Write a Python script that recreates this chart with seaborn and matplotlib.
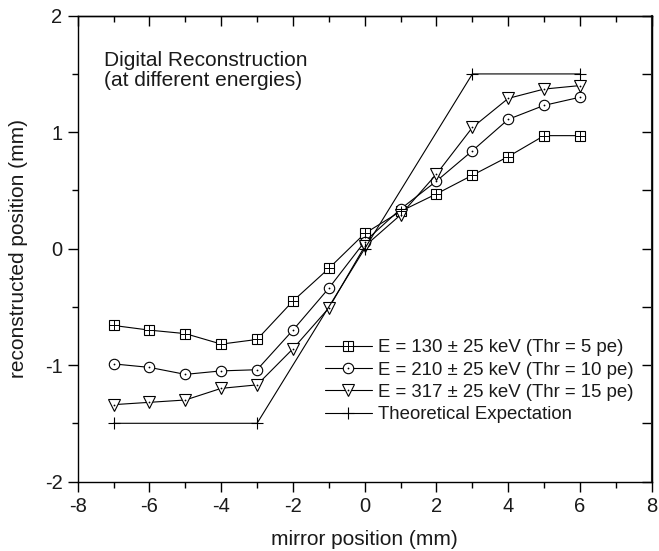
import numpy as np
import pandas as pd
import matplotlib
matplotlib.use("Agg")
import matplotlib.pyplot as plt
import seaborn as sns
from matplotlib.lines import Line2D
from matplotlib.legend_handler import HandlerTuple
from matplotlib.ticker import MultipleLocator

sns.set_theme(style="white")
plt.rcParams['font.family'] = ['Liberation Sans', 'DejaVu Sans']
plt.rcParams['axes.unicode_minus'] = False

# ---- data ----
x_pos = [-7, -6, -5, -4, -3, -2, -1, 0, 1, 2, 3, 4, 5, 6]
y_130 = [-0.66, -0.70, -0.73, -0.82, -0.78, -0.45, -0.17, 0.13, 0.32, 0.47, 0.63, 0.79, 0.97, 0.97]
y_210 = [-0.99, -1.02, -1.08, -1.05, -1.04, -0.70, -0.34, 0.06, 0.34, 0.58, 0.84, 1.11, 1.23, 1.30]
y_317 = [-1.34, -1.32, -1.30, -1.20, -1.17, -0.86, -0.51, 0.02, 0.29, 0.64, 1.04, 1.29, 1.37, 1.40]
x_theo = [-7, -3, 0, 3, 6]
y_theo = [-1.5, -1.5, 0.0, 1.5, 1.5]

labels = ["E = 130 \u00b1 25 keV (Thr = 5 pe)",
          "E = 210 \u00b1 25 keV (Thr = 10 pe)",
          "E = 317 \u00b1 25 keV (Thr = 15 pe)",
          "Theoretical Expectation"]
x_ticks = [-8, -6, -4, -2, 0, 2, 4, 6, 8]
y_ticks = [-2, -1, 0, 1, 2]

TXT = '#1a1a1a'
fig = plt.figure(figsize=(6.59, 5.51), dpi=100)
ax = fig.add_axes([0.1179, 0.1261, 0.8711, 0.8454])

lw = 0.8
common = dict(color='black', linewidth=lw, markerfacecolor='white',
              markeredgecolor='black', markeredgewidth=0.8)

# main series (outer marker)
sns.lineplot(x=x_pos, y=y_130, ax=ax, marker='s', markersize=6.8, zorder=3, **common)
sns.lineplot(x=x_pos, y=y_210, ax=ax, marker='o', markersize=7.5, zorder=3, **common)
sns.lineplot(x=x_pos, y=y_317, ax=ax, marker='v', markersize=8.0, zorder=3, **common)
sns.lineplot(x=x_theo, y=y_theo, ax=ax, marker='+', markersize=8, zorder=4,
             color='black', linewidth=lw, markeredgecolor='black', markeredgewidth=0.8)

# inner decorations
ax.plot(x_pos, y_130, linestyle='none', marker='+', markersize=6.8, color='black',
        markeredgewidth=0.7, zorder=3.5)
ax.plot(x_pos, y_210, linestyle='none', marker='o', markersize=1.3, color='black',
        markeredgewidth=0, zorder=3.5)
ax.plot(x_pos, y_317, linestyle='none', marker='o', markersize=1.3, color='black',
        markeredgewidth=0, zorder=3.5)

ax.set_xlim(-8, 8)
ax.set_ylim(-2, 2)
ax.set_xticks(x_ticks)
ax.set_yticks(y_ticks)
ax.set_xticklabels([str(t) for t in x_ticks])
ax.set_yticklabels([str(t) for t in y_ticks])
ax.xaxis.set_minor_locator(MultipleLocator(1))
ax.yaxis.set_minor_locator(MultipleLocator(0.5))

for s in ax.spines.values():
    s.set_visible(True)
    s.set_color('black')
    s.set_linewidth(1.0)

ax.tick_params(axis='both', which='both', colors='black', labelcolor=TXT,
               labelsize=14.5, direction='out')
ax.tick_params(which='major', length=7, width=1)
ax.tick_params(axis='x', which='major', pad=4)
ax.tick_params(axis='y', which='major', pad=4)
ax.tick_params(which='minor', length=4, width=1)
ax.tick_params(axis='x', which='both', bottom=True, top=False)
ax.tick_params(axis='y', which='both', left=True, right=False)

# mirrored ticks top/right, inward
secx = ax.secondary_xaxis('top')
secx.set_xticks(x_ticks)
secx.xaxis.set_minor_locator(MultipleLocator(1))
secx.tick_params(which='both', direction='in', labeltop=False, colors='black')
secx.tick_params(which='major', length=7, width=1)
secx.tick_params(which='minor', length=4, width=1)
secx.spines['top'].set_linewidth(1.0)
secy = ax.secondary_yaxis('right')
secy.set_yticks(y_ticks)
secy.yaxis.set_minor_locator(MultipleLocator(0.5))
secy.tick_params(which='both', direction='in', labelright=False, colors='black')
secy.tick_params(which='major', length=7, width=1)
secy.tick_params(which='minor', length=7, width=1)
secy.spines['right'].set_linewidth(1.5)

ax.set_xlabel("mirror position (mm)", fontsize=15, color=TXT, labelpad=10)
ax.set_ylabel("reconstructed position (mm)", fontsize=15, color=TXT, labelpad=12)

ax.text(0.045, 0.925, "Digital Reconstruction\n(at different energies)",
        transform=ax.transAxes, fontsize=15, color=TXT, va='top', ha='left',
        linespacing=1.12)

# legend
h1 = (Line2D([], [], marker='s', markersize=6.8, **common),
      Line2D([], [], marker='+', linestyle='none', markersize=6.8, color='black', markeredgewidth=0.7))
h2 = (Line2D([], [], marker='o', markersize=7.5, **common),
      Line2D([], [], marker='o', linestyle='none', markersize=1.3, color='black', markeredgewidth=0))
h3 = (Line2D([], [], marker='v', markersize=8.0, **common),
      Line2D([], [], marker='o', linestyle='none', markersize=1.3, color='black', markeredgewidth=0))
h4 = Line2D([], [], marker='+', markersize=8, color='black', linewidth=lw,
            markeredgecolor='black', markeredgewidth=0.8)

leg = ax.legend([h1, h2, h3, h4], labels,
                handler_map={tuple: HandlerTuple(ndivide=1, pad=0)},
                loc='upper left', bbox_to_anchor=(0.431, 0.305),
                frameon=False, fontsize=13.4, handlelength=2.5, handletextpad=0.33,
                labelspacing=0.28, borderaxespad=0, borderpad=0)
for t in leg.get_texts():
    t.set_color(TXT)

fig.savefig("out.png", dpi=100)
